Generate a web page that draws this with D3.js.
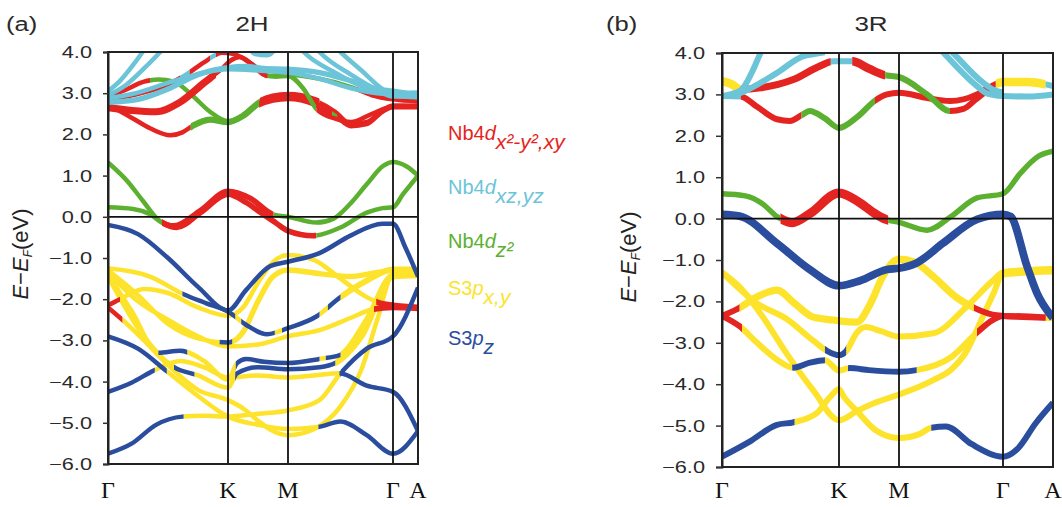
<!DOCTYPE html>
<html><head><meta charset="utf-8">
<script src="https://cdn.jsdelivr.net/npm/d3@7"></script>
<style>body{margin:0;background:#fff} svg{display:block}</style>
</head><body><svg id="c" width="1062" height="507"></svg>
<script>
// ---------- data ----------
const kLabels = ["Γ","K","M","Γ","A"];
const yTicks = [-6,-5,-4,-3,-2,-1,0,1,2,3,4];
const orbitals = ["dx","dxz","dz","pxy","pz"];
const orbColors = ["#e42420","#6cc4d8","#5cb030","#fde32b","#2b4d9e"];
const legendItems = [
  {orb:"dx",  pre:"Nb4", it:"d", sub:"x²-y²,xy"},
  {orb:"dxz", pre:"Nb4", it:"d", sub:"xz,yz"},
  {orb:"dz",  pre:"Nb4", it:"d", sub:"z²"},
  {orb:"pxy", pre:"S3",  it:"p", sub:"x,y"},
  {orb:"pz",  pre:"S3",  it:"p", sub:"z"}
];
// band: p = [k, E(eV)] (k: 0=Γ,1=K,2=M,3=Γ,4=A), s = [k0,k1,orbital,weight]
const bands2H = [
  {p:[[0,1.32],[0.16,0.87],[0.29,0.39],[0.43,-0.1],[0.55,-0.22],[0.77,0.15],[1,0.62],[1.37,0.45],[1.76,0.05],[2,0.0],[2.27,-0.14],[2.43,-0.05],[2.59,0.31],[2.75,0.79],[2.91,1.24],[3,1.33],[3.55,1.22],[4,1.0]],
   s:[[0,0.45,"dz"],[0.45,1.76,"dx",1.25],[1.76,4,"dz"]]},
  {p:[[0,0.23],[0.21,0.19],[0.35,0.06],[0.45,-0.14],[0.57,-0.26],[0.77,0.1],[1,0.55],[1.3,0.35],[1.55,0.1],[1.8,-0.15],[2,-0.34],[2.24,-0.46],[2.5,-0.26],[2.75,0.1],[2.9,0.21],[3,0.23],[3.4,0.55],[4,1.0]],
   s:[[0,0.45,"dz"],[0.45,2.27,"dx",1.25],[2.27,4,"dz"]]},
  {p:[[0,2.72],[0.2,2.4],[0.35,2.15],[0.52,1.98],[0.62,2.05],[0.7,2.2],[0.85,2.36],[1,2.3],[1.25,2.45],[1.53,2.78],[1.75,2.9],[2,2.94],[2.25,2.82],[2.45,2.55],[2.6,2.25],[2.75,2.3],[2.92,2.62],[3,2.7],[4,2.68]],
   s:[[0,0.69,"dx"],[0.69,1.53,"dz",1.4],[1.53,2.3,"dx",1.7],[2.3,4,"dx"]]},
  {p:[[0,2.95],[0.12,3.05],[0.3,3.28],[0.42,3.33],[0.55,3.28],[0.7,2.95],[0.85,2.55],[1,2.32],[1.2,2.42],[1.5,2.72],[1.75,2.84],[2,2.88],[2.25,2.75],[2.45,2.45],[2.6,2.2],[2.75,2.25],[2.9,2.55],[3,2.66],[4,2.66]],
   s:[[0,0.35,"dx"],[0.35,1.52,"dz"],[1.52,2.42,"dx",1.4],[2.42,2.47,"dz"],[2.47,4,"dx"]]},
  {p:[[0,2.65],[0.2,2.58],[0.4,2.55],[0.6,2.78],[0.8,3.25],[0.95,3.6],[1.05,3.8],[1.2,3.88],[1.4,3.7],[1.6,3.45],[1.8,3.4],[2,3.42],[2.15,3.1],[2.27,2.62],[2.45,2.38],[2.6,2.3],[2.8,2.5],[3,2.68],[4,2.7]],
   s:[[0,0.9,"dx",1.6],[0.9,1.63,"dx"],[1.63,2.27,"dz"],[2.27,4,"dx"]]},
  {p:[[0,2.85],[0.2,2.95],[0.45,3.15],[0.65,3.45],[0.8,3.75],[0.95,3.98],[1.1,3.95],[1.3,3.8],[1.5,3.6],[1.65,3.42],[2,3.45],[2.3,3.35],[2.6,3.15],[2.8,2.95],[3,2.85],[4,2.8]],
   s:[[0,0.6,"dx"],[0.6,0.68,"dxz"],[0.68,0.85,"dx"],[0.85,0.9,"dxz"],[0.9,1.66,"dx"],[1.66,2.65,"dz"],[2.65,4,"dx"]]},
  {p:[[0,3.05],[0.1,3.3],[0.2,3.65],[0.3,4.05],[0.4,4.5]], s:[[0,0.4,"dxz"]]},
  {p:[[0,2.95],[0.15,3.2],[0.3,3.6],[0.45,4.05],[0.55,4.4]], s:[[0,0.55,"dxz"]]},
  {p:[[0,2.88],[0.2,2.98],[0.5,3.25],[0.8,3.5],[1,3.58],[1.5,3.55],[2,3.5],[2.3,3.35],[2.6,3.12],[2.85,3.0],[3,2.98],[4,2.98]], s:[[0,4,"dxz"]]},
  {p:[[0,2.78],[0.25,2.85],[0.5,3.1],[0.75,3.45],[1,3.62],[1.3,3.65],[1.6,3.6],[2,3.58],[2.3,3.5],[2.6,3.3],[2.85,3.1],[3,3.05],[4,2.95]], s:[[0,4,"dxz",1.2]]},
  {p:[[2.05,4.3],[2.15,4.0],[2.45,3.5],[2.75,3.12],[3,3.0],[4,3.02]], s:[[2.05,4,"dxz"]]},
  {p:[[2.2,4.3],[2.3,4.0],[2.6,3.45],[2.85,3.08],[3,2.92],[4,2.92]], s:[[2.2,4,"dxz"]]},
  {p:[[2.4,4.25],[2.5,4.0],[2.7,3.55],[2.9,3.1],[3,2.95],[4,2.9]], s:[[2.4,4,"dxz"]]},
  {p:[[1.3,4.2],[1.45,3.95],[1.65,3.92],[1.85,4.2]], s:[[1.3,1.85,"dxz"]]},
  {p:[[0,2.83],[0.08,2.8],[0.14,2.86]], s:[[0,0.14,"pxy",0.7]]},
  {p:[[2.85,2.92],[3,2.85],[4,2.87]], s:[[2.85,4,"pxy",0.7]]},
  // valence
  {p:[[0,-1.25],[0.35,-1.45],[0.63,-1.88],[0.82,-2.1],[1,-2.3],[1.3,-2.62],[1.65,-2.85],[2,-2.7],[2.27,-2.42],[2.5,-1.95],[2.75,-1.55],[3,-1.28],[4,-1.28]],
   s:[[0,0.62,"pxy"],[0.62,1.12,"pz"],[1.12,1.22,"pxy"],[1.22,1.78,"pz"],[1.78,1.9,"pxy"],[1.9,2.3,"pz"],[2.3,2.38,"pxy"],[2.38,2.5,"pz"],[2.5,4,"pxy",1.3]]},
  {p:[[0,-2.15],[0.1,-2.0],[0.3,-1.75],[0.5,-1.85],[0.75,-2.2],[1,-2.4],[1.25,-2.2],[1.5,-1.6],[1.75,-1.1],[2,-0.93],[2.25,-1.05],[2.5,-1.5],[2.75,-1.95],[2.88,-2.1],[3,-2.15],[4,-2.2]],
   s:[[0,0.1,"dx"],[0.1,2.84,"pxy"],[2.84,4,"dx",1.3]]},
  {p:[[0,-1.3],[0.25,-1.9],[0.5,-2.6],[0.75,-2.95],[1,-3.05],[1.25,-2.8],[1.5,-2.05],[1.75,-1.45],[2,-1.29],[2.3,-1.38],[2.6,-1.45],[2.85,-1.35],[3,-1.3],[4,-1.3]],
   s:[[0,0.93,"pxy"],[0.93,1.07,"pz"],[1.07,4,"pxy",1.2]]},
  {p:[[0,-1.35],[0.25,-2.05],[0.5,-2.5],[0.75,-2.9],[1,-3.15],[1.5,-3.1],[2,-2.9],[2.3,-2.75],[2.6,-2.45],[2.8,-2.25],[3,-2.2],[4,-2.22]],
   s:[[0,2.82,"pxy"],[2.82,4,"dx",1.3]]},
  {p:[[0,-2.2],[0.12,-2.5],[0.3,-3.0],[0.5,-3.6],[0.75,-4.2],[1,-4.45],[1.25,-4.65],[1.5,-4.95],[1.75,-5.2],[2,-5.3],[2.25,-5.15],[2.5,-4.6],[2.7,-3.7],[2.85,-2.5],[3,-1.4],[4,-1.38]],
   s:[[0,0.12,"dx"],[0.12,4,"pxy"]]},
  {p:[[0,-1.4],[0.2,-2.3],[0.42,-3.3],[0.6,-3.25],[0.8,-3.5],[1,-3.95],[1.15,-3.55],[1.3,-3.45],[1.6,-3.52],[2,-3.55],[2.3,-3.45],[2.5,-3.35],[2.75,-2.5],[3,-1.42],[4,-1.4]],
   s:[[0,0.42,"pxy"],[0.42,0.66,"pz"],[0.66,1.13,"pxy"],[1.13,2.3,"pz"],[2.3,2.36,"pxy"],[2.36,2.5,"pz"],[2.5,4,"pxy",1.3]]},
  {p:[[0,-1.45],[0.25,-2.7],[0.55,-3.65],[0.75,-3.85],[1,-4.15],[1.15,-3.8],[1.5,-3.65],[2,-3.7],[2.3,-3.65],[2.45,-3.55],[2.7,-2.9],[3,-1.45],[4,-1.42]],
   s:[[0,0.55,"pxy"],[0.55,0.72,"pz"],[0.72,1.12,"pxy"],[1.12,2.45,"pz"],[2.45,4,"pxy",1.3]]},
  {p:[[0,-5.75],[0.2,-5.5],[0.4,-5.05],[0.62,-4.85],[0.8,-4.83],[1,-4.85],[1.5,-4.78],[2,-4.7],[2.3,-4.45],[2.5,-3.8],[2.75,-3.2],[3,-2.9],[4,-1.72]],
   s:[[0,0.63,"pz"],[0.63,2.5,"pxy"],[2.5,4,"pz"]]},
  {p:[[0,-2.9],[0.25,-3.2],[0.49,-3.75],[0.75,-4.35],[1,-4.85],[1.5,-5.05],[2,-5.15],[2.29,-5.1],[2.5,-4.97],[2.75,-5.3],[3,-5.75],[4,-5.2]],
   s:[[0,0.49,"pz"],[0.49,2.29,"pxy"],[2.29,4,"pz"]]},
  {p:[[0,-4.25],[0.2,-4.02],[0.39,-3.72],[0.6,-3.5],[0.8,-3.65],[1,-3.9],[1.5,-3.85],[2,-3.9],[2.25,-3.85],[2.49,-3.8],[2.75,-4.1],[3,-4.25],[4,-5.2]],
   s:[[0,0.39,"pz"],[0.39,2.49,"pxy"],[2.49,4,"pz"]]},
  {p:[[0,-0.2],[0.25,-0.42],[0.5,-1.0],[0.75,-1.7],[1,-2.27],[1.3,-1.78],[1.7,-1.2],[2,-1.09],[2.3,-0.88],[2.6,-0.45],[2.9,-0.17],[3,-0.17],[3.5,-0.75],[4,-1.45]],
   s:[[0,4,"pz"]]}
];
const bands3R = [
  {p:[[0,0.6],[0.2,0.55],[0.35,0.35],[0.47,0.05],[0.6,-0.1],[0.75,0.12],[1,0.62],[1.35,0.38],[1.6,0.12],[1.78,-0.02],[2,-0.09],[2.27,-0.28],[2.5,0.05],[2.75,0.5],[3,0.6],[3.35,1.1],[3.7,1.5],[4,1.63]],
   s:[[0,0.5,"dz",0.9],[0.5,1.82,"dx",1.5],[1.82,4,"dz",0.9]]},
  {p:[[0,2.96],[0.16,2.95],[0.3,2.7],[0.47,2.4],[0.58,2.36],[0.68,2.5],[0.75,2.6],[0.88,2.42],[1,2.19],[1.3,2.45],[1.6,2.85],[1.8,3.0],[2,3.04],[2.26,2.92],[2.49,2.84],[2.75,3.0],[2.86,3.16],[3,3.3],[3.5,3.3],[4,3.2]],
   s:[[0,0.16,"dxz"],[0.16,0.68,"dx"],[0.68,1.6,"dz"],[1.6,2.93,"dx"],[2.93,3.85,"pxy",1.4],[3.85,4,"dxz"]]},
  {p:[[0,3.32],[0.08,3.25],[0.16,3.12],[0.33,3.16],[0.61,3.36],[0.84,3.69],[0.95,3.8],[1,3.8],[1.22,3.8],[1.5,3.62],[1.75,3.47],[2,3.42],[2.27,3.0],[2.49,2.6],[2.62,2.65],[2.75,2.9],[2.88,3.1],[3,2.96],[3.5,2.95],[4,3.0]],
   s:[[0,0.16,"pxy",1.4],[0.16,0.93,"dx",1.2],[0.93,1.22,"dxz"],[1.22,1.77,"dx",1.4],[1.77,2.49,"dz"],[2.49,2.92,"dx"],[2.92,4,"dxz"]]},
  {p:[[0,2.96],[0.16,3.1],[0.25,3.5],[0.33,4.0],[0.4,4.35]], s:[[0,0.4,"dxz"]]},
  {p:[[0.1,2.98],[0.18,3.06],[0.47,3.52],[0.69,3.92],[0.8,3.98],[0.88,4.02]], s:[[0.1,0.88,"dxz"]]},
  {p:[[2.3,4.35],[2.43,4.0],[2.75,3.2],[2.85,3.02],[3,2.96]], s:[[2.3,3,"dxz"]]},
  {p:[[2.4,4.3],[2.52,4.0],[2.8,3.3],[2.92,3.1],[3,3.05]], s:[[2.4,3,"dxz"]]},
  // valence
  {p:[[0,-1.3],[0.15,-1.65],[0.33,-2.3],[0.55,-3.25],[0.78,-4.15],[1,-4.87],[1.3,-4.65],[1.6,-4.45],[2,-4.25],[2.33,-3.9],[2.5,-3.65],[2.65,-3.2],[2.8,-2.4],[2.91,-1.8],[3,-1.32],[4,-1.25]],
   s:[[0,3,"pxy"],[3,4,"pxy",1.4]]},
  {p:[[0,-1.3],[0.3,-2.05],[0.55,-2.42],[0.78,-2.95],[0.9,-3.2],[1,-3.3],[1.12,-3.2],[1.3,-2.75],[1.45,-2.62],[1.7,-2.72],[2,-2.85],[2.33,-2.77],[2.65,-2.13],[2.91,-1.48],[3,-1.3],[4,-1.22]],
   s:[[0,0.88,"pxy"],[0.88,1.12,"pz"],[1.12,4,"pxy"]]},
  {p:[[0,-2.35],[0.15,-2.6],[0.3,-3.0],[0.47,-3.41],[0.61,-3.6],[0.75,-3.48],[0.88,-3.42],[1,-3.67],[1.18,-3.61],[1.5,-3.66],[2,-3.7],[2.17,-3.66],[2.5,-3.35],[2.75,-2.75],[2.9,-2.45],[3,-2.35],[4,-2.4]],
   s:[[0,0.17,"dx"],[0.17,0.6,"pxy"],[0.6,0.88,"pz"],[0.88,1.15,"pxy"],[1.15,2.17,"pz"],[2.17,2.75,"pxy"],[2.75,3.85,"dx"],[3.85,4,"pxy"]]},
  {p:[[0,-2.35],[0.12,-2.2],[0.33,-1.85],[0.47,-1.73],[0.62,-2.05],[0.78,-2.38],[0.95,-2.45],[1,-2.47],[1.3,-2.5],[1.5,-2.12],[1.73,-1.4],[1.9,-1.05],[2,-0.98],[2.15,-1.05],[2.33,-1.4],[2.55,-1.9],[2.72,-2.15],[2.9,-2.32],[3,-2.35],[4,-2.4]],
   s:[[0,0.15,"dx"],[0.15,2.72,"pxy",1.2],[2.72,3.85,"dx"],[3.85,4,"pxy"]]},
  {p:[[0,-5.75],[0.24,-5.38],[0.47,-4.98],[0.61,-4.92],[0.81,-4.7],[0.92,-4.32],[1,-4.12],[1.08,-4.3],[1.3,-4.65],[1.6,-5.1],[2,-5.3],[2.2,-5.2],[2.31,-5.05],[2.45,-5.02],[2.7,-5.45],[3,-5.75],[3.3,-5.55],[3.65,-4.95],[4,-4.45]],
   s:[[0,0.62,"pz"],[0.62,2.31,"pxy"],[2.31,4,"pz"]]},
  {p:[[0,0.1],[0.15,0.06],[0.47,-0.6],[0.75,-1.23],[1,-1.62],[1.35,-1.5],[1.8,-1.23],[2,-1.2],[2.17,-1.07],[2.42,-0.6],[2.75,-0.02],[3,0.1],[3.15,0.05],[3.48,-1.15],[3.68,-1.8],[4,-2.4]],
   s:[[0,4,"pz",1.3]]}
];

// ---------- drawing ----------
const svg = d3.select("#c");
const defs = svg.append("defs");
const color = d3.scaleOrdinal().domain(orbitals).range(orbColors);
const FONT = "'Liberation Sans', Arial, sans-serif";

// horizontally stretched text helper (the reference text is wide)
function wideText(xp, yp, str, size, anchor, sx) {
  return svg.append("text")
    .attr("transform", `translate(${xp},${yp}) scale(${sx},1)`)
    .attr("text-anchor", anchor).attr("font-family", FONT)
    .attr("font-size", size).attr("fill", "#2a2a2a").text(str);
}

function panel(cfg) {
  const x = d3.scaleLinear().domain([0,1,2,3,4]).range(cfg.xr);
  const y = d3.scaleLinear().domain([-6,4]).range(cfg.yr);
  const x0 = cfg.xr[0], x1 = cfg.xr[4], yT = cfg.yr[1], yB = cfg.yr[0];
  const g = svg.append("g");
  const line = d3.line().x(d=>x(d[0])).y(d=>y(d[1])).curve(d3.curveMonotoneX);
  const segs = [];
  cfg.bands.forEach((b,i)=>{
    const d = line(b.p);
    b.s.forEach((s,j)=>segs.push({d, s, id:`${cfg.id}-${i}-${j}`, order: s[2]==="pxy"?0:1, i}));
  });
  segs.sort((a,b)=>a.order-b.order || a.i-b.i);
  segs.forEach(o=>{
    const a = Math.max(x(o.s[0]), x0), b = Math.min(x(o.s[1]), x1);
    defs.append("clipPath").attr("id",o.id).append("rect")
      .attr("x",a).attr("y",yT).attr("width",Math.max(0,b-a)).attr("height",yB-yT);
    g.append("path").attr("d",o.d).attr("clip-path",`url(#${o.id})`)
      .attr("fill","none").attr("stroke",color(o.s[2]))
      .attr("stroke-width",cfg.w*(o.s[3]||1));
  });
  // symmetry lines
  [1,2,3].forEach(k=>g.append("line").attr("x1",x(k)).attr("x2",x(k)).attr("y1",yT).attr("y2",yB)
    .attr("stroke","#111").attr("stroke-width",1.8));
  g.append("line").attr("x1",x0).attr("x2",x1).attr("y1",y(0)).attr("y2",y(0))
    .attr("stroke","#111").attr("stroke-width",1.8);
  g.append("rect").attr("x",x0).attr("y",yT).attr("width",x1-x0).attr("height",yB-yT)
    .attr("fill","none").attr("stroke","#222").attr("stroke-width",2);
  // y axis (ticks from the scale; labels drawn stretched)
  const ax = svg.append("g").attr("transform",`translate(${x0},0)`)
    .call(d3.axisLeft(y).tickValues(yTicks).tickSize(cfg.ts).tickFormat(""));
  ax.select(".domain").attr("stroke","#222").attr("stroke-width",2);
  ax.selectAll(".tick line").attr("stroke","#333").attr("stroke-width",1.5);
  yTicks.forEach(v=>{
    wideText(x0 - cfg.ts - 11, y(v) + 6, d3.format(".1f")(v).replace("-","−"), 16.5, "end", 1.32);
  });
  // k labels
  kLabels.forEach((t,k)=>svg.append("text").attr("x",x(k)).attr("y",498).attr("text-anchor","middle")
    .attr("font-family","'Liberation Serif','Times New Roman',serif").attr("font-size",24).attr("fill","#111").text(t));
  // titles
  wideText(cfg.tagX, 31, cfg.tag, 20, "start", 1.28);
  wideText(cfg.titleX, 31, cfg.title, 20, "middle", 1.3);
  // y label
  const yl = svg.append("text").attr("transform",`translate(${cfg.ylX},${cfg.ylY}) rotate(-90)`)
    .attr("text-anchor","middle").attr("font-family",FONT).attr("font-size",22).attr("fill","#222");
  yl.append("tspan").attr("font-style","italic").text("E");
  yl.append("tspan").text("−");
  yl.append("tspan").attr("font-style","italic").text("E");
  yl.append("tspan").attr("font-style","italic").attr("font-size",12).attr("dy",4).text("F");
  yl.append("tspan").attr("dy",-4).text("(eV)");
}

panel({id:"a", bands:bands2H, xr:[108,228,288,393,418], yr:[464,52], w:4.5, ts:5,
  tag:"(a)", tagX:6, title:"2H", titleX:252, ylX:28, ylY:254});
panel({id:"b", bands:bands3R, xr:[722,839,899,1003,1053], yr:[467,53], w:6, ts:6,
  tag:"(b)", tagX:606, title:"3R", titleX:871, ylX:636, ylY:257});

// legend
const legY = [140,194,248,295,345];
legendItems.forEach((it,i)=>{
  const t = svg.append("text").attr("x",448).attr("y",legY[i]).attr("font-family",FONT)
    .attr("font-size",20).attr("fill",color(it.orb));
  t.append("tspan").text(it.pre);
  t.append("tspan").attr("font-style","italic").text(it.it);
  t.append("tspan").attr("font-style","italic").attr("font-size",21).attr("dy",9).text(it.sub);
});
</script></body></html>
